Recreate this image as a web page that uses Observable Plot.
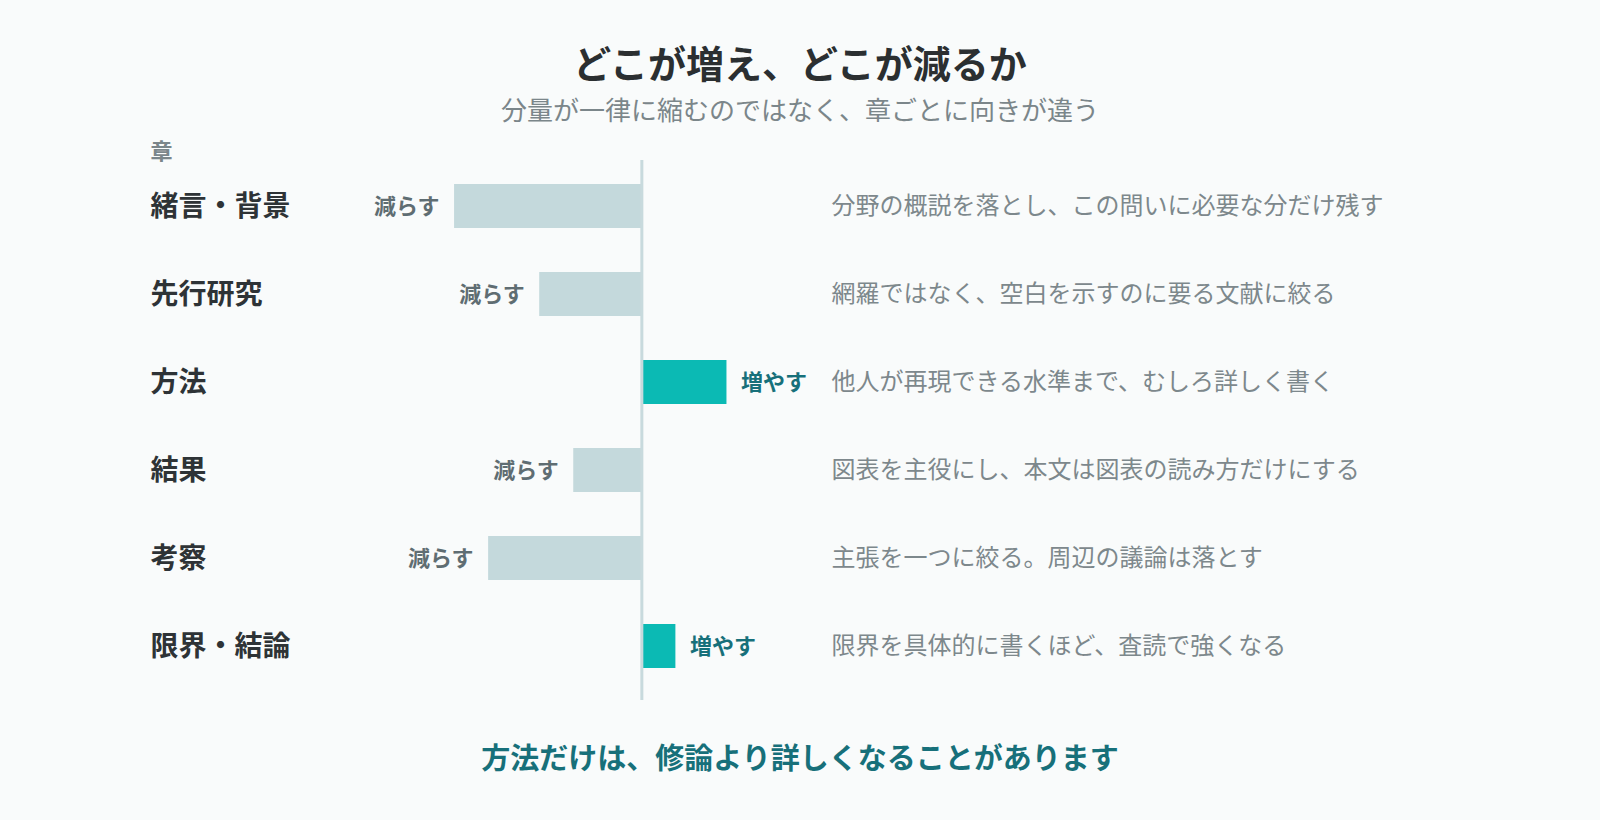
<!DOCTYPE html>
<html lang="ja">
<head>
<meta charset="utf-8">
<script src="https://cdn.jsdelivr.net/npm/d3@7"></script>
<script src="https://cdn.jsdelivr.net/npm/@observablehq/plot@0.6"></script>
<style>
  html, body { margin: 0; padding: 0; background: #f9fbfb; }
  body { width: 1600px; height: 820px; overflow: hidden; font-family: "Noto Sans CJK JP", "Noto Sans", sans-serif; }
  #head { height: 128px; box-sizing: border-box; padding-top: 42px; text-align: center; }
  #title { font-size: 38px; line-height: 40px; font-weight: 700; color: #2b2f31; }
  #subtitle { margin-top: 8px; font-size: 26px; line-height: 37px; color: #7b868a; }
  #chart { height: 592px; }
  #caption { margin-top: 18px; line-height: 36px; font-size: 29px; font-weight: 700; color: #17707a; text-align: center; }
</style>
</head>
<body>
<div id="head">
  <div id="title">どこが増え、どこが減るか</div>
  <div id="subtitle">分量が一律に縮むのではなく、章ごとに向きが違う</div>
</div>
<div id="chart"></div>
<div id="caption">方法だけは、修論より詳しくなることがあります</div>
<script>
const chapters = ["緒言・背景", "先行研究", "方法", "結果", "考察", "限界・結論"];
const change = [-55, -30, 25, -20, -45, 10];
const directionLabels = ["減らす", "減らす", "増やす", "減らす", "減らす", "増やす"];
const notes = [
  "分野の概説を落とし、この問いに必要な分だけ残す",
  "網羅ではなく、空白を示すのに要る文献に絞る",
  "他人が再現できる水準まで、むしろ詳しく書く",
  "図表を主役にし、本文は図表の読み方だけにする",
  "主張を一つに絞る。周辺の議論は落とす",
  "限界を具体的に書くほど、査読で強くなる"
];
const axisLabel = "章";

const data = chapters.map((c, i) => ({chapter: c, value: change[i], label: directionLabels[i], note: notes[i]}));
const neg = d => d.value < 0;
const pos = d => d.value > 0;

const font = "'Noto Sans CJK JP', 'Noto Sans', sans-serif";

const chart = Plot.plot({
  width: 1600,
  height: 592,
  marginTop: 32,
  marginBottom: 20,
  marginLeft: 150,
  marginRight: 769,
  style: {background: "transparent", fontFamily: font},
  x: {domain: [-144.3, 55.7], axis: null},
  y: {domain: chapters, axis: null, paddingInner: 0.5, paddingOuter: 0.318, align: 0.42},
  marks: [
    Plot.barX(data, {filter: neg, x1: 0, x2: "value", y: "chapter", fill: "#c4d9dc"}),
    Plot.barX(data, {filter: pos, x1: 0, x2: "value", y: "chapter", fill: "#0bbab4"}),
    Plot.ruleX([0], {stroke: "#c8dadd", strokeWidth: 3}),
    Plot.text([axisLabel], {text: d => d, frameAnchor: "top-left", textAnchor: "start", dy: -17, fontSize: 22, fontWeight: 700, fill: "#7b868a"}),
    Plot.text(data, {y: "chapter", text: "chapter", frameAnchor: "left", textAnchor: "start", dy: 1, fontSize: 28, fontWeight: 700, fill: "#2e3336"}),
    Plot.text(data, {filter: neg, x: "value", y: "chapter", text: "label", textAnchor: "end", dx: -15, fontSize: 22, fontWeight: 700, fill: "#5f6d72"}),
    Plot.text(data, {filter: pos, x: "value", y: "chapter", text: "label", textAnchor: "start", dx: 14, fontSize: 22, fontWeight: 700, fill: "#17707a"}),
    Plot.text(data, {y: "chapter", text: "note", frameAnchor: "right", textAnchor: "start", fontSize: 24, fill: "#7d888c"})
  ]
});
document.getElementById("chart").appendChild(chart);
</script>
</body>
</html>
